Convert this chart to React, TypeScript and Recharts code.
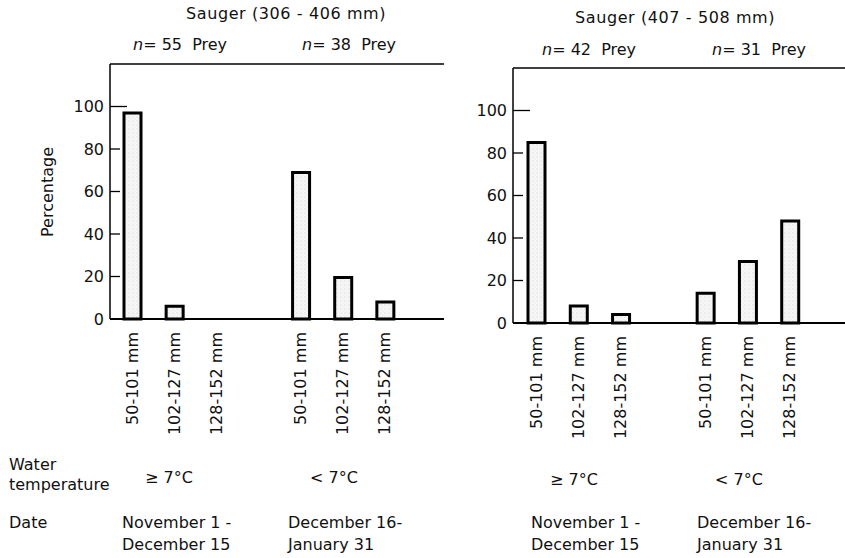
import React from "react"
import { BarChart, Bar, XAxis, YAxis, ReferenceLine } from "recharts"

// size classes of prey; the empty slot is the gap between the two periods
const sizeClasses = ["50-101 mm", "102-127 mm", "128-152 mm", "", "50-101 mm", "102-127 mm", "128-152 mm"]

// percentage of prey in each size class
const smallSauger = [97, 6, 0, null, 69, 19.5, 8]
const largeSauger = [85, 8, 4, null, 14, 29, 48]

const yTicks = [0, 20, 40, 60, 80, 100]
const yMax = 120

const panelTitles = ["Sauger (306 - 406 mm)", "Sauger (407 - 508 mm)"]
const preyCounts = [
  [55, 38],
  [42, 31],
]
const temperatures = ["≥ 7°C", "< 7°C"]
const dateRanges = [
  ["November 1 -", "December 15"],
  ["December 16-", "January 31"],
]

const font = "'DejaVu Sans', sans-serif"
const ink = "#111"

const toRows = (values: (number | null)[]) =>
  sizeClasses.map((label, i) => ({ label, value: values[i] }))

function YTick(props: any) {
  const { x, y, payload } = props
  const len = payload.value === 100 ? 17 : 10
  return (
    <g>
      {payload.value > 0 && (
        <line x1={x} x2={x + len} y1={y} y2={y} stroke="#000" strokeWidth={1.3} />
      )}
      <text x={x - 6} y={y} textAnchor="end" dominantBaseline="central" fontSize={16} fill={ink} fontFamily={font}>
        {payload.value}
      </text>
    </g>
  )
}

function XTick(props: any) {
  const { x, y, payload } = props
  if (!payload.value) return null
  const ty = y + 13
  return (
    <text
      x={x}
      y={ty}
      transform={`rotate(-90, ${x}, ${ty})`}
      textAnchor="end"
      dominantBaseline="central"
      fontSize={16}
      fill={ink}
      fontFamily={font}
    >
      {payload.value}
    </text>
  )
}

function Stipple({ id }: { id: string }) {
  return (
    <defs>
      <pattern id={id} width={4} height={4} patternUnits="userSpaceOnUse">
        <rect width={4} height={4} fill="#f6f6f6" />
        <circle cx={1} cy={1} r={0.5} fill="#c4c4c4" />
        <circle cx={3} cy={3} r={0.4} fill="#dadada" />
      </pattern>
    </defs>
  )
}

function Panel({ values, id, top, yWidth, bottom, width, right, padding, boxRight }: any) {
  const rows = toRows(values)
  return (
    <BarChart
      width={width}
      height={558}
      data={rows}
      margin={{ top, right, bottom: 0, left: 0 }}
      barCategoryGap={0}
    >
      <Stipple id={id} />
      <XAxis
        dataKey="label"
        height={bottom}
        interval={0}
        padding={padding}
        axisLine={{ stroke: "#000", strokeWidth: 2 }}
        tickLine={false}
        tickSize={0}
        tickMargin={0}
        tick={<XTick />}
      />
      <YAxis
        domain={[0, yMax]}
        ticks={yTicks}
        width={yWidth}
        axisLine={{ stroke: "#000", strokeWidth: 1.5 }}
        tickLine={false}
        tickSize={0}
        tickMargin={0}
        tick={<YTick />}
      />
      {boxRight && (
        <YAxis
          yAxisId="right"
          orientation="right"
          domain={[0, yMax]}
          width={0}
          axisLine={{ stroke: "#000", strokeWidth: 1.5 }}
          tickLine={false}
          tick={false}
        />
      )}
      {/* top edge of the frame */}
      <ReferenceLine y={yMax} stroke="#000" strokeWidth={1.5} ifOverflow="visible" />
      <Bar dataKey="value" barSize={17} fill={`url(#${id})`} stroke="#000" strokeWidth={3} isAnimationActive={false} />
    </BarChart>
  )
}

const textStyle: React.CSSProperties = {
  position: "absolute",
  fontFamily: font,
  fontSize: 16,
  lineHeight: "18px",
  color: ink,
  whiteSpace: "pre",
}

function Txt({ x, y, children, spacing }: any) {
  return <div style={{ ...textStyle, left: x, top: y - 9, letterSpacing: spacing || 0 }}>{children}</div>
}

function Prey({ x, y, n }: any) {
  return (
    <Txt x={x} y={y}>
      <i>n</i>= {n}  Prey
    </Txt>
  )
}

export default function App() {
  return (
    <div style={{ position: "absolute", left: 0, top: 0, width: 845, height: 558, background: "#fff", overflow: "hidden" }}>
      <style>{"html, body { margin: 0; overflow: hidden; }"}</style>
      <div style={{ position: "absolute", left: 0, top: 0 }}>
        <Panel
          values={smallSauger}
          id="dotsA"
          top={64}
          bottom={239}
          yWidth={110}
          width={460}
          right={16}
          padding={{ left: 1, right: 38 }}
          boxRight
        />
      </div>
      <div style={{ position: "absolute", left: 400, top: 0 }}>
        <Panel
          values={largeSauger}
          id="dotsB"
          top={68}
          bottom={235}
          yWidth={113}
          width={445}
          right={0}
          padding={{ left: 2, right: 34 }}
        />
      </div>

      <Txt x={186} y={14} spacing={0.6}>{panelTitles[0]}</Txt>
      <Txt x={575} y={18} spacing={0.6}>{panelTitles[1]}</Txt>
      <Prey x={133} y={45} n={preyCounts[0][0]} />
      <Prey x={302} y={45} n={preyCounts[0][1]} />
      <Prey x={542} y={50} n={preyCounts[1][0]} />
      <Prey x={712} y={50} n={preyCounts[1][1]} />

      <div
        style={{
          ...textStyle,
          left: 48,
          top: 192,
          transform: "translate(-50%, -50%) rotate(-90deg)",
        }}
      >
        Percentage
      </div>

      <Txt x={9} y={465}>Water</Txt>
      <Txt x={9} y={485}>temperature</Txt>
      <Txt x={9} y={523}>Date</Txt>

      <Txt x={145} y={478}>{temperatures[0]}</Txt>
      <Txt x={310} y={478}>{temperatures[1]}</Txt>
      <Txt x={550} y={480}>{temperatures[0]}</Txt>
      <Txt x={715} y={480}>{temperatures[1]}</Txt>

      <Txt x={122} y={523}>{dateRanges[0][0]}</Txt>
      <Txt x={122} y={545}>{dateRanges[0][1]}</Txt>
      <Txt x={288} y={523}>{dateRanges[1][0]}</Txt>
      <Txt x={288} y={545}>{dateRanges[1][1]}</Txt>
      <Txt x={531} y={523}>{dateRanges[0][0]}</Txt>
      <Txt x={531} y={545}>{dateRanges[0][1]}</Txt>
      <Txt x={697} y={523}>{dateRanges[1][0]}</Txt>
      <Txt x={697} y={545}>{dateRanges[1][1]}</Txt>
    </div>
  )
}
